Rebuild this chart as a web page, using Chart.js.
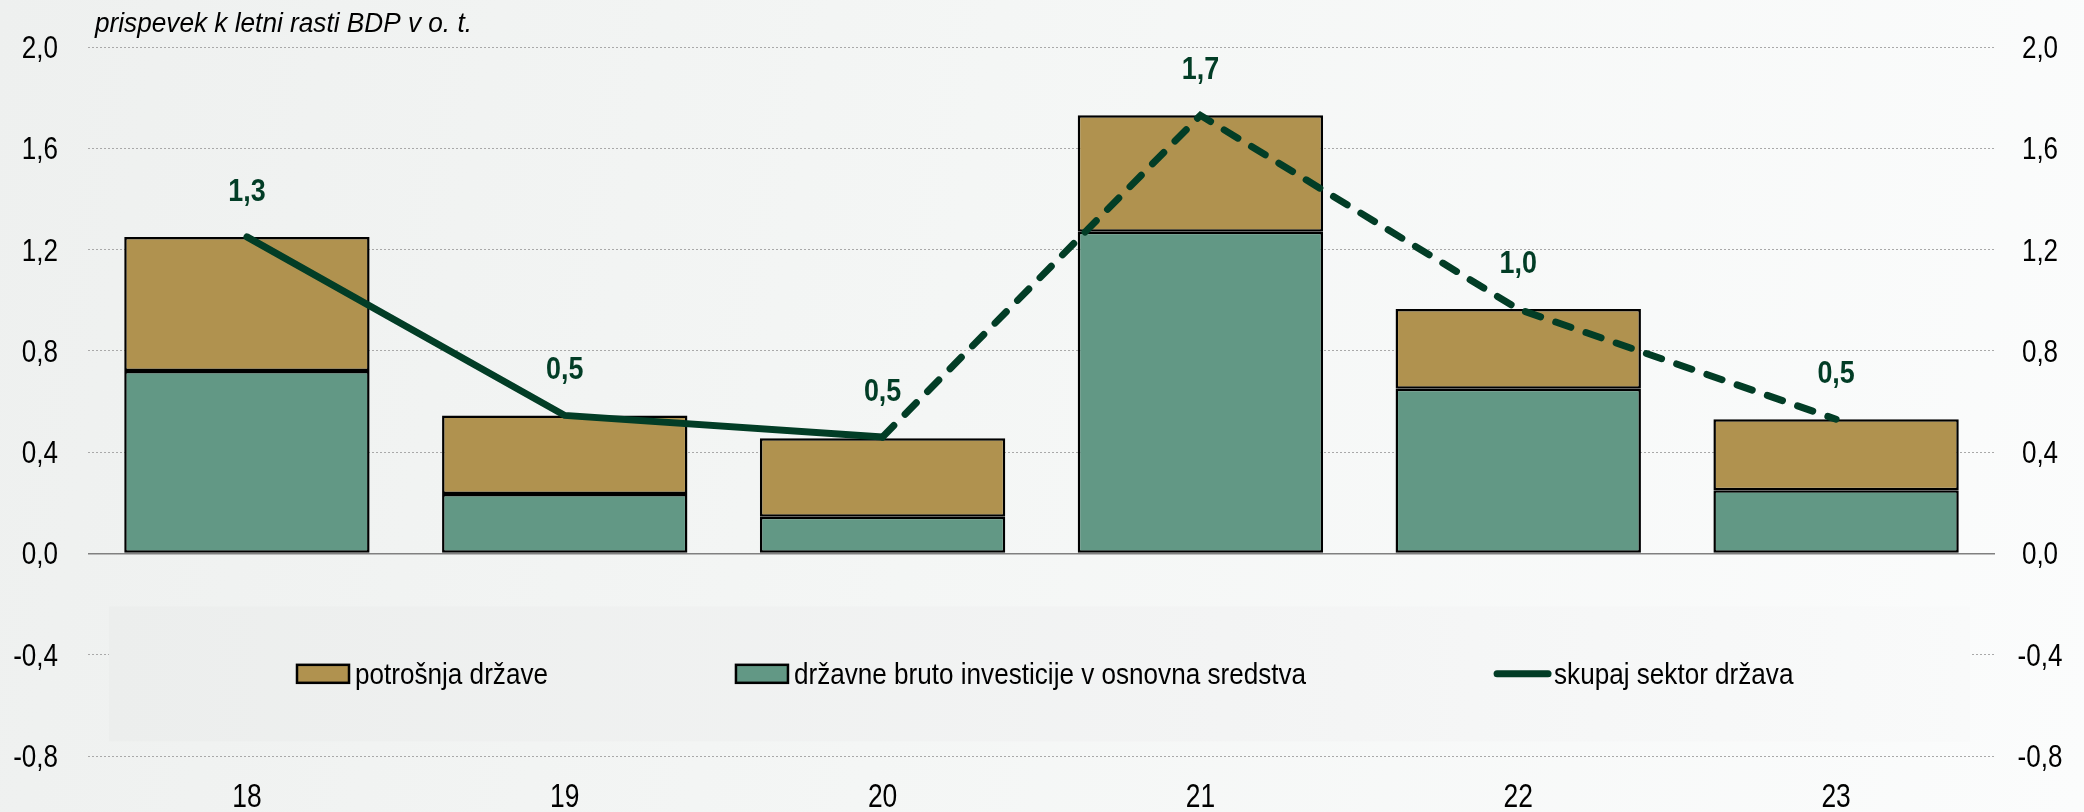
<!DOCTYPE html>
<html>
<head>
<meta charset="utf-8">
<script src="https://cdn.jsdelivr.net/npm/chart.js@4.4.0/dist/chart.umd.min.js"></script>
<style>
  html, body { margin: 0; padding: 0; }
  body {
    width: 2084px; height: 812px; overflow: hidden;
    background: linear-gradient(100deg, #eef0ef 0%, #f4f6f5 45%, #fbfcfc 100%);
  }
</style>
</head>
<body>
<canvas id="chart" width="2084" height="812"></canvas>
<script>
// data
const years = ["18", "19", "20", "21", "22", "23"];
const investment = [0.72, 0.235, 0.145, 1.27, 0.65, 0.25];
const consumption = [0.53, 0.31, 0.31, 0.46, 0.315, 0.28];
const total = [1.25, 0.545, 0.46, 1.73, 0.965, 0.53];
const seriesNames = ["potrošnja države", "državne bruto investicije v osnovna sredstva", "skupaj sektor država"];
const yTicks = [-0.8, -0.4, 0, 0.4, 0.8, 1.2, 1.6, 2.0];
const unitTitle = "prispevek k letni rasti BDP v o. t.";

// no Arial Narrow here, so squeeze Liberation Sans sideways
const FONT = "'Liberation Sans', Arial, sans-serif";
const TAN = "#b0924f";
const TEAL = "#629885";
const DARK = "#023d26";

function fmt(v) {
    return v.toFixed(1).replace(".", ",");
}

function narrowText(ctx, text, x, y, font, sx, align, color) {
    ctx.save();
    ctx.font = font;
    ctx.fillStyle = color || "#000";
    ctx.textAlign = align;
    ctx.textBaseline = "alphabetic";
    ctx.translate(x, y);
    ctx.scale(sx, 1);
    ctx.fillText(text, 0, 0);
    ctx.restore();
}

function narrowWidth(ctx, text, font, sx) {
    ctx.save();
    ctx.font = font;
    const w = ctx.measureText(text).width * sx;
    ctx.restore();
    return w;
}

const decor = {
    id: "decor",
    beforeDatasetsDraw(chart) {
        // grey legend panel under the zero line
        const ctx = chart.ctx;
        const area = chart.chartArea;
        const y = chart.scales.y;
        const left = area.left + 21, right = area.right - 25;
        const top = y.getPixelForValue(-0.209), bottom = y.getPixelForValue(-0.742);
        const g = ctx.createLinearGradient(left, 0, right, 0);
        g.addColorStop(0, "#eceeed");
        g.addColorStop(0.6, "#f3f4f4");
        g.addColorStop(1, "#f9fafa");
        ctx.save();
        ctx.fillStyle = g;
        ctx.fillRect(left, top, right - left, bottom - top);
        ctx.restore();
    },
    afterDraw(chart) {
        const ctx = chart.ctx;
        const area = chart.chartArea;
        const x = chart.scales.x;
        const y = chart.scales.y;

        // title
        narrowText(ctx, unitTitle, 95, 32, "italic 27px " + FONT, 0.97, "left");

        // axis labels
        const tickFont = "31px " + FONT;
        yTicks.forEach(v => {
            const py = y.getPixelForValue(v) + 11;
            narrowText(ctx, fmt(v), 58, py, tickFont, 0.84, "right");
            narrowText(ctx, fmt(v), 2040, py, tickFont, 0.84, "center");
        });
        years.forEach((lab, i) => {
            narrowText(ctx, lab, x.getPixelForValue(i), 807, "33px " + FONT, 0.8, "center");
        });

        // labels over the line
        const lineMeta = chart.getDatasetMeta(0);
        lineMeta.data.forEach((pt, i) => {
            narrowText(ctx, fmt(total[i]), pt.x, pt.y - 36, "bold 32px " + FONT, 0.84, "center", DARK);
        });

        // legend
        ctx.save();
        const midY = (y.getPixelForValue(-0.209) + y.getPixelForValue(-0.742)) / 2;
        const legFont = "29px " + FONT, legSx = 0.9;
        const swW = 52, swH = 18, gapItem = 188;
        let lx = area.left + 209;
        const fills = [TAN, TEAL, null];
        seriesNames.forEach((name, i) => {
            let tx;
            if (fills[i]) {
                ctx.fillStyle = fills[i];
                ctx.fillRect(lx, midY - swH / 2, swW, swH);
                ctx.strokeStyle = "#000";
                ctx.lineWidth = 2.5;
                ctx.strokeRect(lx, midY - swH / 2, swW, swH);
                tx = lx + swW + 6;
            } else {
                ctx.strokeStyle = DARK;
                ctx.lineWidth = 7;
                ctx.lineCap = "round";
                ctx.beginPath();
                ctx.moveTo(lx + 3, midY);
                ctx.lineTo(lx + swW + 2, midY);
                ctx.stroke();
                tx = lx + swW + 8;
            }
            narrowText(ctx, name, tx, midY + 10, legFont, legSx, "left");
            lx = tx + narrowWidth(ctx, name, legFont, legSx) + gapItem;
        });
        ctx.restore();
    }
};

new Chart(document.getElementById("chart"), {
    type: "bar",
    data: {
        labels: years,
        datasets: [
            {
                type: "line",
                label: seriesNames[2],
                data: total,
                stack: "line",
                borderColor: DARK,
                borderWidth: 7,
                pointRadius: 0,
                fill: false,
                tension: 0,
                borderCapStyle: "round",
                segment: {
                    borderDash: ctx => ctx.p0DataIndex >= 2 ? [16, 16] : undefined
                }
            },
            {
                label: seriesNames[1],
                data: investment,
                stack: "bars",
                backgroundColor: TEAL,
                borderColor: "#000",
                borderWidth: 2.5,
                borderSkipped: false,
                barPercentage: 0.772,
                categoryPercentage: 1.0
            },
            {
                label: seriesNames[0],
                data: consumption,
                stack: "bars",
                backgroundColor: TAN,
                borderColor: "#000",
                borderWidth: 2.5,
                borderSkipped: false,
                barPercentage: 0.772,
                categoryPercentage: 1.0
            }
        ]
    },
    options: {
        responsive: false,
        animation: false,
        devicePixelRatio: 1,
        layout: { padding: { top: 47, left: 0, right: 0, bottom: 0 } },
        plugins: {
            legend: { display: false },
            tooltip: { enabled: false }
        },
        scales: {
            x: {
                stacked: true,
                grid: { display: false },
                border: { display: false },
                ticks: { display: false },
                afterFit: s => { s.height = 56; }
            },
            y: {
                position: "left",
                stacked: true,
                min: yTicks[0],
                max: yTicks[yTicks.length - 1],
                ticks: { display: false, stepSize: 0.4 },
                afterBuildTicks: s => { s.ticks = yTicks.map(v => ({ value: v })); },
                grid: {
                    drawTicks: false,
                    color: c => (c.tick && c.tick.value === 0) ? "#808080" : "#a9a9a9",
                    lineWidth: c => (c.tick && c.tick.value === 0) ? 1.5 : 1
                },
                border: {
                    display: false,
                    dash: c => (c.tick && c.tick.value === 0) ? [] : [2, 2]
                },
                afterFit: s => { s.width = 88; }
            },
            y2: {
                position: "right",
                min: yTicks[0],
                max: yTicks[yTicks.length - 1],
                ticks: { display: false, stepSize: 0.4 },
                grid: { drawOnChartArea: false, drawTicks: false },
                border: { display: false },
                afterFit: s => { s.width = 89; }
            }
        }
    },
    plugins: [decor]
});
</script>
</body>
</html>
